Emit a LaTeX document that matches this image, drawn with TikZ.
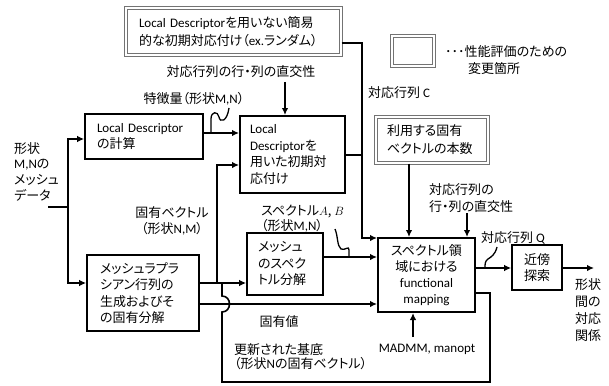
\documentclass[tikz,border=0pt]{standalone}
\usepackage{fontspec}
\setmainfont{Noto Sans CJK JP}[RawFeature=+palt]
\newfontfamily\latf[Scale=1.0]{Carlito}
\usetikzlibrary{arrows.meta}
\begin{document}
\begin{tikzpicture}[x=1pt,y=-1pt,
  every node/.style={font=\fontsize{13}{16.5}\selectfont, inner sep=0pt},
  bx/.style={draw, line width=1.6pt, rectangle},
  bxt/.style={draw, line width=2pt, rectangle},
  dbx/.style={draw=black!55, double=white, double distance=1.4pt, line width=1.1pt, rectangle},
  ln/.style={line width=1.6pt},
  arr/.style={line width=1.6pt, -{Latex[length=7pt,width=6.5pt]}},
  sq/.style={line width=1.3pt},
]
\useasboundingbox (0,0) rectangle (609,385);

% boxes
\node[dbx, minimum width=215, minimum height=47, text width=189, inner xsep=13, align=left,
  font=\fontsize{13}{17.5}\selectfont] (TB) at (233.5,31.5)
  {{\latf Local Descriptor}を用いない簡易\\的な初期対応付け（{\latf ex.}ランダム）};
\node[dbx, minimum width=42, minimum height=30] (LG) at (413,51) {};
\node[anchor=west] (LGT1) at (445,52) {･･･性能評価のための};
\node[anchor=west] (LGT2) at (468,69) {変更箇所};

\node[bx, minimum width=118, minimum height=45, text width=94, inner xsep=12, align=left] (LDC) at (144,136.5)
  {{\latf Local Descriptor}\\の計算};
\node[bxt, minimum width=105, minimum height=77, text width=85, inner xsep=10, align=left] (INIT) at (292.5,154.5)
  {{\latf Local}\\{\latf Descriptor}を\\用いた初期対\\応付け};
\node[dbx, minimum width=112, minimum height=46, text width=90, inner xsep=11, align=left,
  font=\fontsize{13}{18}\selectfont] (NUM) at (432,140)
  {利用する固有\\ベクトルの本数};
\node[bx, minimum width=112, minimum height=76, text width=86, inner xsep=13, align=left] (LAP) at (143,293)
  {メッシュラプラ\\シアン行列の\\生成およびそ\\の固有分解};
\node[bx, minimum width=76, minimum height=62, text width=54, inner xsep=11, align=left] (SPD) at (285,264)
  {メッシュ\\のスペク\\トル分解};
\node[bxt, minimum width=97, minimum height=74, text width=90, inner xsep=3.5, align=center,
  font=\fontsize{13}{15.8}\selectfont] (FM) at (426.5,275)
  {スペクトル領\\域における\\{\latf functional}\\{\latf mapping}};
\node[bx, minimum width=50, minimum height=45, text width=40, inner xsep=5, align=center] (NN) at (537,267.5)
  {近傍\\探索};

% labels
\node[align=left, anchor=west, font=\fontsize{13}{15.7}\selectfont] (IN) at (14,171.5)
  {形状\\{\latf M,N}の\\メッシュ\\データ};
\node (ORTH1) at (241,72) {対応行列の行・列の直交性};
\node (FEAT) at (194,99) {特徴量（形状{\latf M,N}）};
\node[anchor=west] (CLBL) at (368,93) {対応行列 {\latf C}};
\node[align=center] (EV) at (172,221) {固有ベクトル\\（形状{\latf N,M}）};
\node[align=left, anchor=west, font=\fontsize{13}{13.5}\selectfont] (SPL) at (261,218.5)
  {スペクトル$A$, $B$\\（形状{\latf M,N}）};
\node[align=left, anchor=west] (ORTH2) at (429,198) {対応行列の\\行・列の直交性};
\node[anchor=west] (QLBL) at (481,238) {対応行列 {\latf Q}};
\node (EVAL) at (279,322) {固有値};
\node[align=left, anchor=west, font=\fontsize{13}{13.5}\selectfont] (UPD) at (234,356.5)
  {更新された基底\\（形状{\latf N}の固有ベクトル）};
\node (MAD) at (427,349) {{\latf MADMM, manopt}};
\node[align=left, font=\fontsize{13}{17}\selectfont] (OUTL) at (588,310) {形状\\間の\\対応\\関係};

% connectors
\coordinate (in0) at (48,207);
\coordinate (j1) at (68,207);
\draw[ln] (in0) -- (j1);
\draw[arr] (j1) |- (LDC.west |- 0,139);
\draw[arr] (j1) |- (LAP.west |- 0,283);

\coordinate (o1) at (285,82);
\draw[arr] (o1) -- (INIT.north -| o1);

\draw[arr] (LDC.east |- 0,133) -- (INIT.west |- 0,133);
\coordinate (s1a) at (211,133);
\coordinate (s1b) at (229,108);
\draw[sq] (s1a) -- (211,119) .. controls (211,111) and (218,111) .. (219,117)
  .. controls (220,123) and (227,122) .. (s1b);

\coordinate (j2) at (217,283);
\draw[arr] (LAP.east |- j2) -- (SPD.west |- j2);
\draw[arr] (j2) |- (INIT.west |- 0,165);
\draw[arr] (LAP.east |- 0,304) -- (FM.west |- 0,304);

\coordinate (lp1) at (490,293);
\coordinate (lp2) at (490,382);
\coordinate (lp3) at (222,382);
\coordinate (lp4) at (222,283);
\draw[ln] (FM.east |- lp1) -- (lp1) -- (lp2) -- (lp3) -- (222,312)
  .. controls (232,312) and (232,296) .. (222,296) -- (lp4);

\coordinate (j3) at (362,238);
\draw[ln] (INIT.east |- 0,155) -- (362,155);
\draw[arr] (TB.east |- 0,43) -| (j3) -- (FM.west |- j3);

\draw[arr] (SPD.east |- 0,257) -- (FM.west |- 0,257);
\coordinate (s2a) at (335,229);
\coordinate (s2b) at (349,257);
\draw[sq] (s2a) .. controls (338,236) and (337,246) .. (341,249)
  .. controls (345,251) and (349,245) .. (349,250) -- (s2b);

\draw[arr] (NUM.south -| 409,0) -- (FM.north -| 409,0);
\coordinate (o2) at (467,213);
\draw[arr] (o2) -- (FM.north -| o2);

\draw[arr] (FM.east |- 0,268) -- (NN.west |- 0,268);
\coordinate (s3a) at (497,247);
\coordinate (s3b) at (485,268);
\draw[sq] (s3a) .. controls (495,255) and (491,257) .. (488,259)
  .. controls (485,261) and (485,264) .. (s3b);

\coordinate (out) at (594,268);
\draw[arr] (NN.east |- out) -- (out);

\coordinate (m1) at (413,337);
\draw[arr] (m1) -- (FM.south -| m1);
\end{tikzpicture}
\end{document}
